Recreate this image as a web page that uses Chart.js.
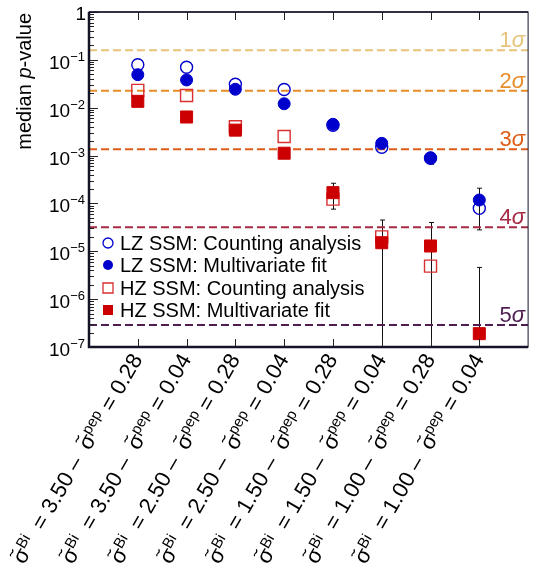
<!DOCTYPE html>
<html>
<head>
<meta charset="utf-8">
<script src="https://cdn.jsdelivr.net/npm/chart.js@4.4.1/dist/chart.umd.min.js"></script>
<style>
  html, body { margin: 0; padding: 0; background: #fff; }
  canvas { display: block; }
</style>
</head>
<body>
<canvas id="chart" width="538" height="568"></canvas>
<script>
// Category settings (sigma_Bi, sigma_pep)
const biVals = ['3.50', '3.50', '2.50', '2.50', '1.50', '1.50', '1.00', '1.00'];
const pepVals = ['0.28', '0.04', '0.28', '0.04', '0.28', '0.04', '0.28', '0.04'];

// Median p-values
const lzCount = [0.079, 0.070, 0.031, 0.024, 0.0043, 0.00149, 0.00088, 7.9e-5];
const lzFit = [0.049, 0.038, 0.0243, 0.0121, 0.0045, 0.0018, 0.0009, 1.18e-4];
const hzCount = [0.023, 0.018, 0.0040, 0.0025, 1.23e-4, 2.0e-5, 4.9e-6, null];
const hzFit = [0.0136, 0.0064, 0.0034, 0.00112, 1.68e-4, 1.51e-5, 1.29e-5, 1.9e-7];

// Error bars (upper / lower) on the multivariate fits
const lzFitHi = [null, null, null, null, null, null, 0.00101, 2.08e-4];
const lzFitLo = [null, null, null, null, null, null, 0.00066, 2.8e-5];
const hzFitHi = [null, null, null, null, 2.64e-4, 4.5e-5, 4.0e-5, 4.6e-6];
const hzFitLo = [null, null, null, null, 7.6e-5, 1e-9, 1e-9, 1e-9];

// Significance reference lines
const sigmaNames = ['1', '2', '3', '4', '5'];
const sigmaVals = [0.1587, 0.02275, 0.00135, 3.17e-5, 2.87e-7];
const sigmaColors = ['#e6c47a', '#e88c2a', '#de5e18', '#a52a44', '#4e1e52'];

// Y axis decades
const yDecades = [0, -1, -2, -3, -4, -5, -6, -7];

const BLUE = '#0000cc';
const RED = '#cc0000';
const FONT = "'Liberation Sans', Arial, Helvetica, sans-serif";

function font(size, italic) {
    return (italic ? 'italic ' : '') + size + 'px ' + FONT;
}

// Draw a run of text pieces (sub/superscripts, italics, tilde accents)
function drawRich(ctx, parts, x, y, align) {
    let total = 0;
    parts.forEach(p => {
        ctx.font = font(p.size || 20, p.italic);
        p.w = ctx.measureText(p.t).width;
        total += p.w;
    });
    let cx = align === 'right' ? x - total : x;
    parts.forEach(p => {
        ctx.font = font(p.size || 20, p.italic);
        ctx.fillText(p.t, cx, y + (p.dy || 0));
        if (p.tilde) {
            // small wave above the sigma
            const tx = cx + 1, ty = y - 11;
            ctx.save();
            ctx.strokeStyle = ctx.fillStyle;
            ctx.lineWidth = 1.2;
            ctx.beginPath();
            ctx.moveTo(tx, ty + 1);
            ctx.bezierCurveTo(tx + 2, ty - 2.5, tx + 4, ty + 3.5, tx + 7, ty - 1);
            ctx.stroke();
            ctx.restore();
        }
        cx += p.w;
    });
}

const points = arr => arr.map((v, i) => v === null ? null : { x: i + 1, y: v }).filter(Boolean);

const datasets = [
    { label: 'LZ SSM: Multivariate fit', data: points(lzFit), pointStyle: 'circle', pointRadius: 6,
      backgroundColor: BLUE, borderColor: BLUE, borderWidth: 1, order: 1 },
    { label: 'HZ SSM: Multivariate fit', data: points(hzFit), pointStyle: 'rect', pointRadius: 8.5,
      backgroundColor: RED, borderColor: RED, borderWidth: 1, order: 1 },
    { label: 'LZ SSM: Counting analysis', data: points(lzCount), pointStyle: 'circle', pointRadius: 6,
      backgroundColor: 'rgba(0,0,0,0)', borderColor: BLUE, borderWidth: 1.4, order: 2 },
    { label: 'HZ SSM: Counting analysis', data: points(hzCount), pointStyle: 'rect', pointRadius: 8.5,
      backgroundColor: 'rgba(0,0,0,0)', borderColor: '#d83030', borderWidth: 1.4, order: 2 }
];

sigmaVals.forEach((s, i) => {
    datasets.push({
        type: 'line', label: sigmaNames[i] + 'σ',
        data: [{ x: 0, y: s }, { x: 9, y: s }],
        borderColor: sigmaColors[i], borderWidth: 2, borderDash: [8, 4],
        pointRadius: 0, fill: false, order: 5
    });
});

const errorBars = {
    id: 'errorBars',
    beforeDatasetsDraw(chart) {
        const { ctx, chartArea, scales: { x, y } } = chart;
        ctx.save();
        ctx.beginPath();
        ctx.rect(chartArea.left, chartArea.top, chartArea.width, chartArea.height);
        ctx.clip();
        ctx.strokeStyle = '#111';
        ctx.lineWidth = 1;
        [[lzFitHi, lzFitLo], [hzFitHi, hzFitLo]].forEach(([hi, lo]) => {
            hi.forEach((h, i) => {
                if (h === null) return;
                const px = Math.round(x.getPixelForValue(i + 1)) + 0.5;
                const yh = y.getPixelForValue(h);
                const yl = y.getPixelForValue(lo[i]);
                ctx.beginPath();
                ctx.moveTo(px, yh);
                ctx.lineTo(px, yl);
                ctx.moveTo(px - 2.5, yh);
                ctx.lineTo(px + 2.5, yh);
                ctx.moveTo(px - 2.5, yl);
                ctx.lineTo(px + 2.5, yl);
                ctx.stroke();
            });
        });
        ctx.restore();
    }
};

const frame = {
    id: 'frame',
    afterDraw(chart) {
        const { ctx, chartArea: a, scales: { x, y } } = chart;
        ctx.save();
        ctx.fillStyle = '#000';
        ctx.strokeStyle = '#111';

        // sigma labels
        sigmaVals.forEach((s, i) => {
            ctx.fillStyle = sigmaColors[i];
            ctx.textBaseline = 'alphabetic';
            drawRich(ctx, [{ t: sigmaNames[i], size: 22 }, { t: 'σ', size: 22, italic: true }], a.right - 3, y.getPixelForValue(s) - 3, 'right');
        });

        // axis ticks
        ctx.lineWidth = 1;
        ctx.strokeStyle = '#222';
        ctx.beginPath();
        yDecades.forEach(e => {
            const py = Math.round(y.getPixelForValue(Math.pow(10, e))) + 0.5;
            ctx.moveTo(a.left, py);
            ctx.lineTo(a.left + 9, py);
            if (e > -7) {
                for (let k = 2; k <= 9; k++) {
                    const my = Math.round(y.getPixelForValue(k * Math.pow(10, e - 1))) + 0.5;
                    ctx.moveTo(a.left, my);
                    ctx.lineTo(a.left + 5, my);
                }
            }
        });
        biVals.forEach((b, i) => {
            const px = Math.round(x.getPixelForValue(i + 1)) + 0.5;
            ctx.moveTo(px, a.top);
            ctx.lineTo(px, a.top + 8);
            ctx.moveTo(px, a.bottom);
            ctx.lineTo(px, a.bottom - 8);
        });
        ctx.stroke();

        // frame
        ctx.strokeStyle = '#141428';
        ctx.lineWidth = 1;
        ctx.strokeRect(a.left, a.top, a.width, a.height);
        ctx.lineWidth = 2.5;
        ctx.beginPath();
        ctx.moveTo(a.left, a.top);
        ctx.lineTo(a.left, a.bottom);
        ctx.lineTo(a.right, a.bottom);
        ctx.stroke();
        ctx.lineWidth = 1.5;
        ctx.beginPath();
        ctx.moveTo(a.left, a.top);
        ctx.lineTo(a.right, a.top);
        ctx.stroke();

        // y tick labels
        ctx.fillStyle = '#000';
        ctx.textBaseline = 'alphabetic';
        yDecades.forEach(e => {
            const py = y.getPixelForValue(Math.pow(10, e));
            if (e === 0) {
                drawRich(ctx, [{ t: '1', size: 19 }], 86, py + 8, 'right');
            } else {
                drawRich(ctx, [{ t: '10', size: 19 }, { t: '−' + (-e), size: 13, dy: -8 }], 85, py + 9, 'right');
            }
        });

        // y title
        ctx.save();
        ctx.translate(31, a.top + 1);
        ctx.rotate(-Math.PI / 2);
        drawRich(ctx, [{ t: 'median ' }, { t: 'p', italic: true }, { t: '-value' }], 0, 0, 'right');
        ctx.restore();

        // x tick labels
        const ang = -60 * Math.PI / 180;
        biVals.forEach((b, i) => {
            const px = x.getPixelForValue(i + 1);
            ctx.save();
            ctx.translate(px, a.bottom + 9);
            ctx.rotate(ang);
            ctx.textBaseline = 'middle';
            drawRich(ctx, [
                { t: 'σ', size: 22, tilde: true },
                { t: 'Bi', size: 15, dy: -6 },
                { t: '  = ' + b + ' –  ', size: 22 },
                { t: 'σ', size: 22, tilde: true },
                { t: 'pep', size: 15, dy: -6 },
                { t: ' = ' + pepVals[i], size: 22 }
            ], 0, 0, 'right');
            ctx.restore();
        });

        // legend
        const rows = [
            { label: 'LZ SSM: Counting analysis', style: 'circle', fill: false, color: BLUE },
            { label: 'LZ SSM: Multivariate fit', style: 'circle', fill: true, color: BLUE },
            { label: 'HZ SSM: Counting analysis', style: 'rect', fill: false, color: '#d83030' },
            { label: 'HZ SSM: Multivariate fit', style: 'rect', fill: true, color: RED }
        ];
        const rowY = [243, 265, 288, 310];
        rows.forEach((r, i) => {
            const cy = rowY[i];
            ctx.beginPath();
            if (r.style === 'circle') {
                ctx.arc(108, cy, 5, 0, Math.PI * 2);
            } else {
                ctx.rect(103, cy - 5, 10, 10);
            }
            ctx.lineWidth = 1.3;
            ctx.strokeStyle = r.color;
            ctx.fillStyle = r.color;
            if (r.fill) ctx.fill(); else ctx.stroke();
            ctx.fillStyle = '#000';
            ctx.textBaseline = 'middle';
            ctx.font = font(20);
            ctx.fillText(r.label, 120, cy + 1);
        });
        ctx.restore();
    }
};

new Chart(document.getElementById('chart'), {
    type: 'scatter',
    data: { datasets },
    options: {
        responsive: false,
        animation: false,
        events: [],
        layout: { padding: { left: 89, right: 5, top: 12, bottom: 221 } },
        plugins: { legend: { display: false }, tooltip: { enabled: false } },
        scales: {
            x: { type: 'linear', min: 0, max: 9, display: false },
            y: { type: 'logarithmic', min: 1e-7, max: 1, display: false }
        }
    },
    plugins: [errorBars, frame]
});
</script>
</body>
</html>
